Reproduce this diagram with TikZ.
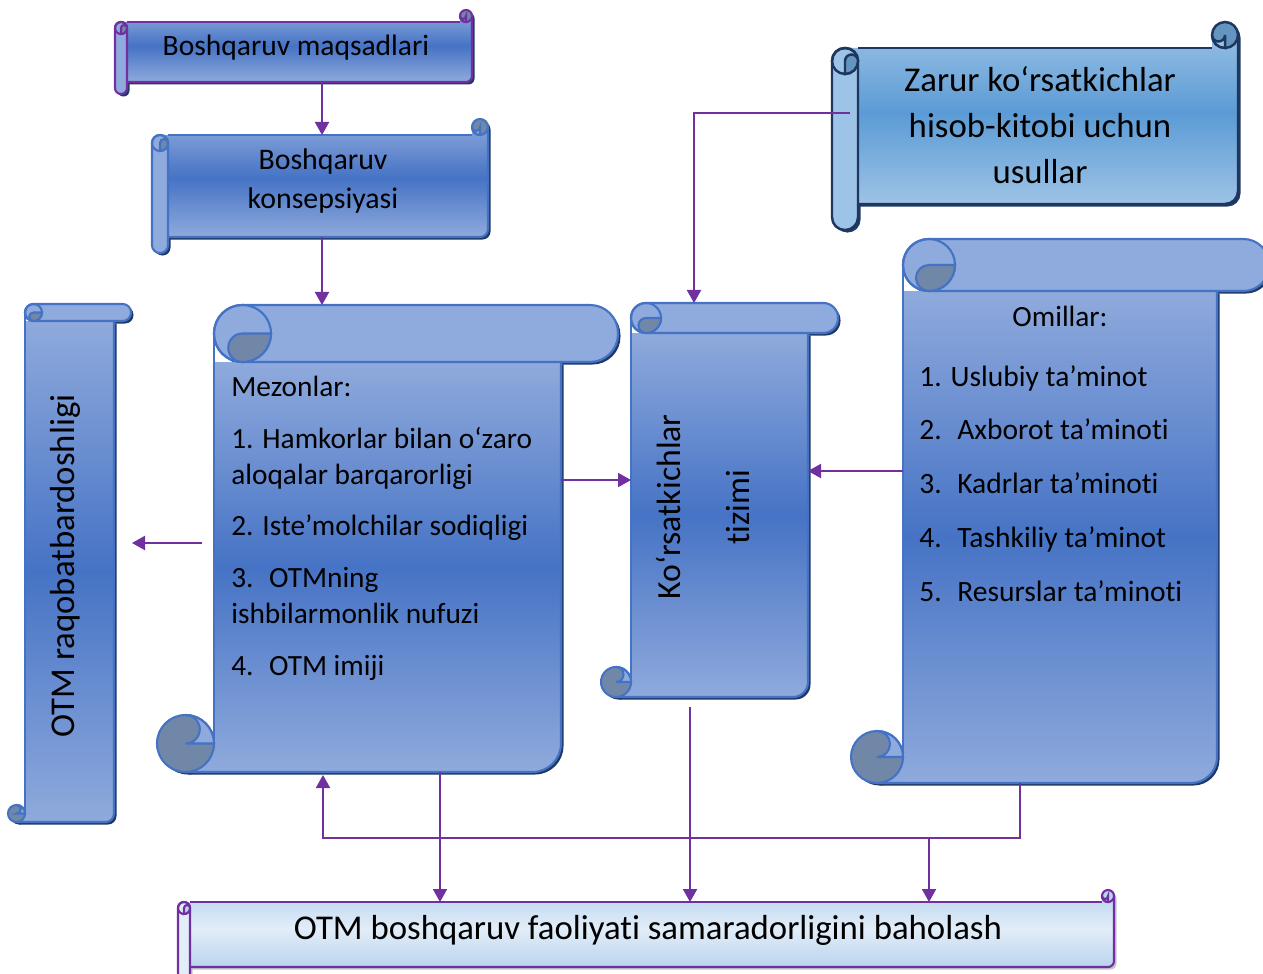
\documentclass[tikz,border=0pt]{standalone}
\usepackage{fontspec}
\setmainfont{Carlito}[Ligatures=NoCommon]
\usetikzlibrary{arrows.meta,calc,positioning}

\definecolor{lineblue}{RGB}{68,114,196}
\definecolor{rollblue}{RGB}{143,170,220}
\definecolor{midblue}{RGB}{70,115,197}
\definecolor{curlgray}{RGB}{112,135,168}
\definecolor{navy}{RGB}{32,56,100}
\definecolor{arrowpurple}{RGB}{112,48,160}
\definecolor{skyline}{RGB}{30,55,95}
\definecolor{skytop}{RGB}{157,195,230}
\definecolor{skymid}{RGB}{91,155,213}
\definecolor{palelight}{RGB}{226,237,248}
\definecolor{paleblue}{RGB}{185,212,238}

\tikzset{
    scroll line/.style={draw=lineblue, line width=1.2pt},
    scroll body/.style={top color=rollblue, bottom color=rollblue, middle color=midblue},
    scroll roll/.style={fill=rollblue},
    scroll curl/.style={fill=curlgray},
    scroll shadow/.style={fill=navy},
    purplescroll/.style={scroll line/.style={draw=arrowpurple, line width=1.2pt}},
    skyscroll/.style={scroll line/.style={draw=skyline, line width=1.4pt},
        scroll body/.style={top color=skytop, bottom color=skytop, middle color=skymid},
        scroll roll/.style={fill=skytop}, scroll curl/.style={fill=skymid!75!gray}},
    palescroll/.style={scroll line/.style={draw=arrowpurple, line width=1.2pt},
        scroll body/.style={top color=paleblue, bottom color=paleblue, middle color=palelight},
        scroll roll/.style={fill=palelight}, scroll curl/.style={fill=paleblue},
        scroll shadow/.style={fill=gray!45}},
    arr/.style={draw=arrowpurple, line width=1.1pt, -{Triangle[length=7.4pt,width=8pt]}},
    txt/.style={inner sep=0pt, font=\fontsize{16.7}{20.4}\selectfont},
}

% horizontal scroll: [look]{name}{left}{top}{right}{bottom}{roll}
\newcommand{\hscroll}[7][]{%
    \begin{scope}[#1]
    \pgfmathsetmacro\sr{#7/2}\pgfmathsetmacro\sq{#7/4}\pgfmathsetmacro\rc{#7*0.0098}
    \pgfmathsetmacro\xa{#3}\pgfmathsetmacro\xb{#3+#7}\pgfmathsetmacro\xc{#3+#7/2}
    \pgfmathsetmacro\xd{#5-#7}\pgfmathsetmacro\xe{#5}\pgfmathsetmacro\xf{#5-#7/2}
    \pgfmathsetmacro\ya{-#4}\pgfmathsetmacro\yb{-#4-#7/2}\pgfmathsetmacro\yc{-#4-#7}
    \pgfmathsetmacro\yd{-#6+#7}\pgfmathsetmacro\ye{-#6}\pgfmathsetmacro\yf{-#4-1.5*#7}
    \pgfmathsetmacro\yg{-#6+1.5*#7}
    \fill[scroll shadow, shift={(2.5,-2.5)}] (\xc,\yc) -- (\xd,\yc) -- (\xd,\yb) arc[start angle=180,end angle=0,radius=\sr]
        -- (\xe,\yg) arc[start angle=0,end angle=-90,radius=\sr] -- (\xc,\yd) -- cycle;
    \fill[scroll shadow, shift={(2.5,-2.5)}, rounded corners=\rc cm] (\xa,\ye) rectangle (\xb,\yc);
    \path[scroll body] (\xc,\yc) -- (\xd,\yc) -- (\xd,\yb) arc[start angle=180,end angle=0,radius=\sr]
        -- (\xe,\yg) arc[start angle=0,end angle=-90,radius=\sr] -- (\xc,\yd) -- cycle;
    \draw[scroll line] (\xb,\yc) -- (\xd,\yc);
    \draw[scroll line] (\xe,\yb) -- (\xe,\yg) arc[start angle=0,end angle=-90,radius=\sr] -- (\xb,\yd);
    \path[scroll curl, scroll line] (\xf,\yb) circle[radius=\sr];
    \path[scroll roll, scroll line] (\xf,\yb) arc[start angle=0,end angle=-180,radius=\sq]
        arc[start angle=180,end angle=270,radius=\sr] -- cycle;
    \path[scroll roll, scroll line, rounded corners=\rc cm] (\xa,\ye) rectangle (\xb,\yc);
    \path[scroll line] (\xc,\yf) circle[radius=\sr];
    \path[scroll curl, scroll line] (\xc,\yf) arc[start angle=180,end angle=0,radius=\sq]
        arc[start angle=0,end angle=-90,radius=\sr] -- cycle;
    \pgfmathsetmacro\bw{(\xe-\xb)*0.02}\pgfmathsetmacro\bh{(\yc-\yd)*0.02}
    \node[inner sep=0pt, outer sep=0pt, minimum width=\bw cm, minimum height=\bh cm]
        (#2) at ({(\xb+\xe)/2},{(\yc+\yd)/2}) {};
    \end{scope}}

% vertical scroll: [look]{name}{left}{top}{right}{bottom}{roll}
\newcommand{\vscroll}[7][]{%
    \begin{scope}[#1]
    \pgfmathsetmacro\sr{#7/2}\pgfmathsetmacro\sq{#7/4}\pgfmathsetmacro\rc{#7*0.0098}
    \pgfmathsetmacro\xa{#3}\pgfmathsetmacro\xb{#3+#7}\pgfmathsetmacro\xc{#3+#7/2}
    \pgfmathsetmacro\xd{#5-#7}\pgfmathsetmacro\xe{#5}\pgfmathsetmacro\xf{#3+1.5*#7}
    \pgfmathsetmacro\ya{-#4}\pgfmathsetmacro\yb{-#4-#7/2}\pgfmathsetmacro\yc{-#4-#7}
    \pgfmathsetmacro\yd{-#6+#7/2}\pgfmathsetmacro\ye{-#6}
    \fill[scroll shadow, shift={(2.5,-2.5)}] (\xb,\yc) -- (\xd,\yc) -- (\xd,\yd)
        arc[start angle=0,end angle=-90,radius=\sr] -- (\xc,\ye) -- (\xc,\yd) -- (\xb,\yd) -- cycle;
    \fill[scroll shadow, shift={(2.5,-2.5)}, rounded corners=\rc cm] (\xb,\yc) rectangle (\xe,\ya);
    \fill[scroll shadow, shift={(2.5,-2.5)}] (\xc,\yd) circle[radius=\sr];
    \path[scroll body] (\xb,\yc) -- (\xd,\yc) -- (\xd,\yd)
        arc[start angle=0,end angle=-90,radius=\sr] -- (\xc,\ye) -- (\xc,\yd) -- (\xb,\yd) -- cycle;
    \draw[scroll line] (\xb,\yb) -- (\xb,\yd);
    \draw[scroll line] (\xd,\yc) -- (\xd,\yd) arc[start angle=0,end angle=-90,radius=\sr] -- (\xc,\ye);
    \path[scroll curl, scroll line] (\xc,\yd) circle[radius=\sr];
    \path[scroll roll, scroll line] (\xc,\yd) arc[start angle=-90,end angle=90,radius=\sq]
        arc[start angle=90,end angle=0,radius=\sr] -- cycle;
    \path[scroll roll, scroll line, rounded corners=\rc cm] (\xb,\yc) rectangle (\xe,\ya);
    \path[scroll line] (\xf,\yb) circle[radius=\sr];
    \path[scroll curl, scroll line] (\xf,\yb) arc[start angle=90,end angle=270,radius=\sq]
        arc[start angle=270,end angle=360,radius=\sr] -- cycle;
    \pgfmathsetmacro\bw{(\xd-\xb)*0.02}\pgfmathsetmacro\bh{(\ya-\ye)*0.02}
    \node[inner sep=0pt, outer sep=0pt, minimum width=\bw cm, minimum height=\bh cm]
        (#2) at ({(\xb+\xd)/2},{(\ya+\ye)/2}) {};
    \end{scope}}

\begin{document}
\begin{tikzpicture}[x=0.02cm, y=0.02cm]
    \useasboundingbox (0,0) rectangle (1263,-973);

    \hscroll[purplescroll]{maq}{115}{10}{472}{94}{12}
    \hscroll{kon}{152}{119}{488}{253}{16}
    \hscroll[skyscroll]{zar}{832}{22}{1238}{230}{26}
    \vscroll{raq}{8}{304}{131}{822}{17}
    \vscroll{mez}{157}{305}{618}{772}{57}
    \vscroll{kor}{601}{303}{838}{697}{30}
    \vscroll{omi}{851}{239}{1269}{783}{52}
    \hscroll[palescroll]{bot}{178}{890}{1114}{979}{12}

    \node[txt, font=\fontsize{16.8}{22}\selectfont] (maqt) at (296,-48) {Boshqaruv maqsadlari};
    \node[txt, align=center, font=\fontsize{17}{22}\selectfont] (kont) at (323,-181) {Boshqaruv\\konsepsiyasi};
    \node[txt, align=center, font=\fontsize{19.8}{26}\selectfont] (zart) at (1040,-125)
        {Zarur ko‘rsatkichlar\\hisob-kitobi uchun\\usullar};
    \node[txt, rotate=90, font=\fontsize{19.8}{22}\selectfont] (raqt) at (65,-566) {OTM raqobatbardoshligi};
    \node[txt, anchor=north west, align=left] (mezt) at (231,-376)
        {Mezonlar:\\[9pt]1. Hamkorlar bilan o‘zaro\\aloqalar barqarorligi\\[9pt]2. Iste’molchilar sodiqligi\\[9pt]3.~ OTMning\\ishbilarmonlik nufuzi\\[9pt]4.~ OTM imiji};
    \node[txt, rotate=90, align=center, font=\fontsize{19.2}{39.7}\selectfont] (kort) at (703,-507)
        {Ko‘rsatkichlar\\tizimi};
    \node[txt] (omit) at (1060,-316) {Omillar:};
    \node[txt, anchor=north west, align=left, font=\fontsize{16.8}{30.6}\selectfont] (omil) at (919,-365)
        {1. Uslubiy ta’minot\\2.~ Axborot ta’minoti\\3.~ Kadrlar ta’minoti\\4.~ Tashkiliy ta’minot\\5.~ Resurslar ta’minoti};
    \node[txt, font=\fontsize{19.8}{24}\selectfont] (bott) at (648,-930)
        {OTM boshqaruv faoliyati samaradorligini baholash};

    \coordinate (mezout) at (202,-543);
    \coordinate (loop) at (323,-838);
    \coordinate (split) at (929,-838);

    \draw[arr] ([xshift=-0.12cm]kon.north |- maq.south) -- ([xshift=-0.12cm]kon.north);
    \draw[arr] ([xshift=-0.12cm]kon.south) -- ([xshift=-0.12cm]kon.south |- mez.north);
    \draw[arr] ([xshift=-0.16cm,yshift=0.26cm]zar.west) -| ([xshift=-0.51cm]kor.north);
    \draw[arr] ([yshift=1.17cm]mez.east) -- ([yshift=1.17cm]mez.east -| kor.west);
    \draw[arr] ([yshift=0.8cm]omi.west) -- ([yshift=0.8cm]omi.west -| kor.east);
    \draw[arr, shorten >=0.36cm] (mezout) -- (mezout -| raq.east);
    \draw[arr] ([xshift=-0.59cm,yshift=-0.2cm]kor.south) -- ([xshift=-0.59cm]kor.south |- bot.north);
    \draw[arr] ([xshift=1.05cm]mez.south) -- ([xshift=1.05cm]mez.south |- bot.north);
    \draw[arr] ([xshift=-0.8cm]omi.south) |- (loop) -- ([yshift=-0.06cm]loop |- mez.south);
    \draw[arr] (split) -- (split |- bot.north);
\end{tikzpicture}
\end{document}
